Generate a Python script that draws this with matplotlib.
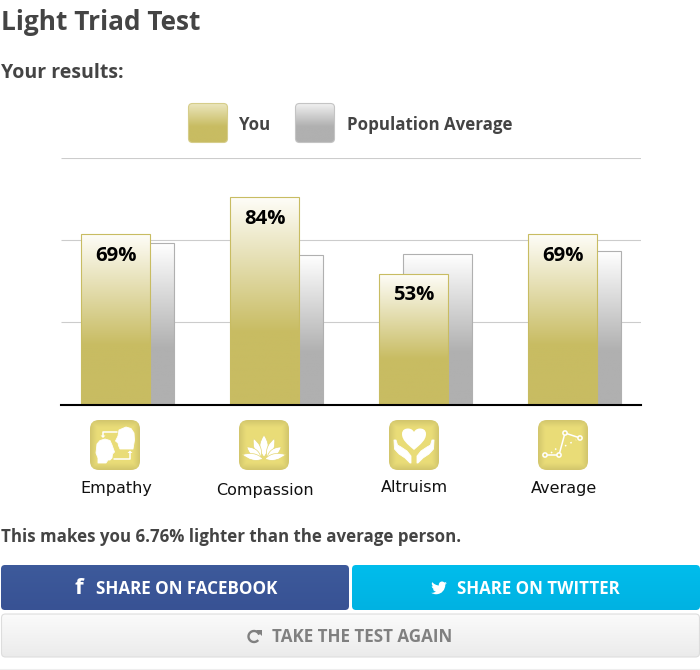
import re
import numpy as np
import matplotlib
matplotlib.use('Agg')
import matplotlib.pyplot as plt
from matplotlib.colors import LinearSegmentedColormap
from matplotlib.patches import FancyBboxPatch, Circle, PathPatch, Polygon, Arc
from matplotlib.path import Path

categories = ['Empathy', 'Compassion', 'Altruism', 'Average']
you_values = [69, 84, 53, 69]
population_values = [65.4, 60.6, 61, 62.2]
grid_values = [100, 66.8, 33.6]

GOLD = '#c8bc62'
GREY = '#b0b0b0'
TEXT = '#444444'
SANS = 'Open Sans'

BIRD = ("M22.46,6C21.69,6.35 20.86,6.58 20,6.69C20.88,6.16 21.56,5.32 21.88,4.31C21.05,4.81 20.13,5.16 19.16,5.36"
        "C18.37,4.5 17.26,4 16,4C13.65,4 11.73,5.92 11.73,8.29C11.73,8.63 11.77,8.96 11.84,9.27C8.28,9.09 5.11,7.38 3,4.79"
        "C2.63,5.42 2.42,6.16 2.42,6.94C2.42,8.43 3.17,9.75 4.33,10.5C3.62,10.5 2.96,10.3 2.38,10C2.38,10 2.38,10 2.38,10.03"
        "C2.38,12.11 3.86,13.85 5.82,14.24C5.46,14.34 5.08,14.39 4.69,14.39C4.42,14.39 4.15,14.36 3.89,14.31"
        "C4.43,16 6,17.26 7.89,17.29C6.43,18.45 4.58,19.13 2.56,19.13C2.22,19.13 1.88,19.11 1.54,19.07"
        "C3.44,20.29 5.7,21 8.12,21C16,21 20.33,14.46 20.33,8.79C20.33,8.6 20.33,8.42 20.32,8.23"
        "C21.16,7.63 21.88,6.87 22.46,6Z")


def fade(top, bottom, stop):
    return LinearSegmentedColormap.from_list('fade', [(0, top), (stop, bottom), (1, bottom)])


def ramp():
    return np.linspace(0, 1, 256).reshape(-1, 1)


def rounded_box(ax, x, y, w, h, top, bottom, stop=1.0, edge='none', radius=4, lw=0.8):
    box = FancyBboxPatch((x + radius, y + radius), w - 2 * radius, h - 2 * radius,
                         boxstyle='round,pad=%g,rounding_size=%g' % (radius, radius),
                         fc='none', ec=edge, lw=lw, zorder=3)
    ax.add_patch(box)
    img = ax.imshow(ramp(), cmap=fade(top, bottom, stop), extent=(x, x + w, y + h, y),
                    origin='upper', aspect='auto', zorder=2)
    img.set_clip_path(box)


def icon_tile(ax, x, y, size=50, radius=9):
    # soft glow inside a rounded tile
    box = FancyBboxPatch((x + radius, y + radius), size - 2 * radius, size - 2 * radius,
                         boxstyle='round,pad=%g,rounding_size=%g' % (radius, radius),
                         fc='none', ec='none', zorder=3)
    ax.add_patch(box)
    u = np.linspace(-1, 1, 100)
    xx, yy = np.meshgrid(u, u)
    edge = np.clip((np.maximum(np.abs(xx), np.abs(yy)) - 0.72) / 0.28, 0, 1)
    cmap = LinearSegmentedColormap.from_list('tile', ['#e9dc78', '#d2c66c'])
    img = ax.imshow(edge, cmap=cmap, vmin=0, vmax=1, extent=(x, x + size, y + size, y),
                    aspect='auto', zorder=2, interpolation='bilinear')
    img.set_clip_path(box)


def svg_path(d):
    verts, codes = [], []
    for cmd, body in re.findall(r'([MCZ])([^MCZ]*)', d):
        nums = [float(n) for n in re.findall(r'-?\d+\.?\d*', body)]
        pts = list(zip(nums[::2], nums[1::2]))
        if cmd == 'M':
            verts += pts
            codes += [Path.MOVETO]
        elif cmd == 'C':
            verts += pts
            codes += [Path.CURVE4] * len(pts)
        else:
            verts += [verts[0]]
            codes += [Path.CLOSEPOLY]
    return np.array(verts), codes


def petal(ax, ox, oy, bx, by, angle, length, width):
    # leaf shape growing from its base point
    a = np.radians(angle)
    d = np.array([np.sin(a), -np.cos(a)])
    n = np.array([d[1], -d[0]])
    b = np.array([ox + bx, oy + by])
    tip = b + d * length
    pts = [b, b + d * length * .35 + n * width, b + d * length * .7 + n * width * .7, tip,
           b + d * length * .7 - n * width * .7, b + d * length * .35 - n * width, b]
    ax.add_patch(PathPatch(Path(pts, [Path.MOVETO] + [Path.CURVE4] * 6), fc='white', ec='#e4d775', lw=0.5, zorder=5))


def white_poly(ax, ox, oy, pts, lw=0.6):
    pts = [(ox + x, oy + y) for x, y in pts]
    ax.add_patch(Polygon(pts, closed=True, fc='white', ec='white', lw=lw, joinstyle='round', zorder=5))


def white_line(ax, ox, oy, pts, lw=1.1, style='-'):
    xs = [ox + p[0] for p in pts]
    ys = [oy + p[1] for p in pts]
    ax.plot(xs, ys, color='white', lw=lw, ls=style, zorder=5, solid_capstyle='round')


def empathy_icon(ax, ox, oy):
    white_poly(ax, ox, oy, [(36, 7), (41, 8.5), (44, 13), (44.5, 20), (43, 29), (30, 29), (28.5, 25.5),
                            (28, 23), (25.5, 21), (28, 16), (29, 10)])
    white_poly(ax, ox, oy, [(15, 19), (20, 20.5), (22, 25), (24.5, 32), (22.5, 34), (22, 38), (20, 40),
                            (18, 40), (16, 43), (8, 43), (8, 38), (6, 33), (7, 24), (10, 20.5)])
    white_line(ax, ox, oy, [(27, 12), (13, 12), (13, 16)])
    white_line(ax, ox, oy, [(24, 38.5), (40, 38.5), (40, 33)])
    white_poly(ax, ox, oy, [(10.5, 15.5), (15.5, 15.5), (13, 18)], lw=0)
    white_poly(ax, ox, oy, [(37.5, 33), (42.5, 33), (40, 30.5)], lw=0)


def compassion_icon(ax, ox, oy):
    petal(ax, ox, oy, 25, 37, 0, 22, 6.5)
    petal(ax, ox, oy, 22, 37, -22, 20, 5)
    petal(ax, ox, oy, 28, 37, 22, 20, 5)
    petal(ax, ox, oy, 22, 38, -52, 18, 5.5)
    petal(ax, ox, oy, 28, 38, 52, 18, 5.5)
    petal(ax, ox, oy, 24, 39, -78, 21, 5)
    petal(ax, ox, oy, 26, 39, 78, 21, 5)


def altruism_icon(ax, ox, oy):
    heart = [(25, 30), (18, 24), (13, 20), (13, 14), (13, 9.5), (16.5, 8.5), (19, 8.5), (22, 8.5), (24, 10), (25, 12),
             (26, 10), (28, 8.5), (31, 8.5), (33.5, 8.5), (37, 9.5), (37, 14), (37, 20), (32, 24), (25, 30)]
    verts = [(ox + x, oy + y) for x, y in heart]
    ax.add_patch(PathPatch(Path(verts, [Path.MOVETO] + [Path.CURVE4] * 18), fc='white', ec='none', zorder=5))
    left = [(5, 20), (5.5, 29), (10, 34), (16, 38), (21, 43), (22, 43), (22, 36), (18, 31), (12, 27), (8.5, 25), (7, 20)]
    white_poly(ax, ox, oy, left)
    white_poly(ax, ox, oy, [(50 - x, y) for x, y in left])


def average_icon(ax, ox, oy):
    dots = [(7, 35), (21, 35), (27, 13), (42, 18)]
    white_line(ax, ox, oy, dots)
    white_line(ax, ox, oy, [(13, 33), (19, 28)], lw=1.1, style=(0, (1, 2.5)))
    white_line(ax, ox, oy, [(27, 26), (38, 20)], lw=1.1, style=(0, (1, 3)))
    for x, y in dots:
        ax.add_patch(Circle((ox + x, oy + y), 2.1, fc='#e6d973', ec='white', lw=1.1, zorder=6))


def draw_chart(fig):
    ax = fig.add_axes([61 / 700, 1 - 404.5 / 670, 580 / 700, 247 / 670], facecolor='none')
    x = np.arange(len(categories))
    width = 69 / 149
    offset = 11.75 / 149
    ax.hlines(grid_values, -0.446, 3.446, color='#cccccc', lw=0.8, zorder=1)
    pop_map = fade('#ffffff', GREY, 0.65)
    you_map = fade('#fefdf8', GOLD, 0.65)
    for i in x:
        ax.imshow(ramp(), cmap=pop_map, aspect='auto', origin='upper', zorder=2,
                  extent=(i + offset - width / 2, i + offset + width / 2, 0, population_values[i]))
        ax.imshow(ramp(), cmap=you_map, aspect='auto', origin='upper', zorder=4,
                  extent=(i - offset - width / 2, i - offset + width / 2, 0, you_values[i]))
    ax.bar(x + offset, population_values, width, fc='none', ec=GREY, lw=0.8, zorder=3)
    ax.bar(x - offset, you_values, width, fc='none', ec=GOLD, lw=0.8, zorder=5)
    for i in x:
        ax.annotate('%d%%' % you_values[i], (i - offset, you_values[i]), xytext=(0, -15.5), textcoords='offset points',
                    ha='center', va='center', fontsize=14.6, fontweight='bold', family=SANS, color='black',
                    zorder=6)
    ax.set_xlim(-0.446, 3.446)
    ax.set_ylim(0, 100)
    ax.set_xticks([])
    ax.set_yticks([])
    for name in ['top', 'left', 'right']:
        ax.spines[name].set_visible(False)
    ax.spines['bottom'].set_linewidth(1.5)
    ax.spines['bottom'].set_zorder(7)


def draw_page(fig):
    ax = fig.add_axes([0, 0, 1, 1], facecolor='none')

    bold = dict(family=SANS, fontweight='bold', va='center')
    ax.text(1, 23, 'Light Triad Test', fontsize=18.9, color=TEXT, **bold)
    ax.text(1, 73.5, 'Your results:', fontsize=14, color=TEXT, **bold)
    ax.text(239, 124.5, 'You', fontsize=12.2, color=TEXT, **bold)
    ax.text(347, 124.5, 'Population Average', fontsize=12.2, color=TEXT, **bold)
    ax.text(1, 537.5, 'This makes you 6.76% lighter than the average person.', fontsize=12.2, color=TEXT, **bold)

    rounded_box(ax, 188.5, 103.5, 39, 39, '#ece7bf', GOLD, 0.6, edge='#d6cd8a', radius=4)
    rounded_box(ax, 295.5, 103.5, 39, 39, '#f2f2f2', GREY, 0.6, edge='#c4c4c4', radius=4)

    # icons under the bars
    icon_x = [90, 239, 389, 538]
    label_x = [116, 265, 414, 564]
    label_y = [489, 490, 488, 489]
    painters = [empathy_icon, compassion_icon, altruism_icon, average_icon]
    for name, ix, lx, ly, paint in zip(categories, icon_x, label_x, label_y, painters):
        icon_tile(ax, ix, 420)
        paint(ax, ix, 420)
        ax.text(lx, ly, name, fontsize=11.5, family='DejaVu Sans', color='#111111', ha='center', va='center')

    # share and retry buttons
    rounded_box(ax, 1, 565, 348, 45, '#3d5a9b', '#385294', radius=4)
    rounded_box(ax, 352, 565, 348, 45, '#00bdec', '#00b2e2', radius=4)
    rounded_box(ax, 1.5, 614, 698, 43, '#fbfbfb', '#ebebeb', edge='#dddddd', radius=4)

    ax.text(78.5, 589, 'f', fontsize=16, color='white', ha='center', zorder=6, **bold)
    ax.text(96, 589, 'SHARE ON FACEBOOK', fontsize=12.28, color='white', zorder=6, **bold)
    ax.text(457, 589, 'SHARE ON TWITTER', fontsize=12.2, color='white', zorder=6, **bold)
    ax.text(272, 637, 'TAKE THE TEST AGAIN', fontsize=12.28, color='#808080', zorder=6, **bold)

    verts, codes = svg_path(BIRD)
    verts = verts * 0.75 + (430, 578.5)
    ax.add_patch(PathPatch(Path(verts, codes), fc='white', ec='none', zorder=6))

    ax.add_patch(Arc((254, 636.5), 11, 11, theta1=-320, theta2=-20, ec='#808080', lw=1.7, zorder=6))
    ax.add_patch(Polygon([(256, 630), (262, 630), (262, 636)], closed=True, fc='#808080', ec='none', zorder=6))

    ax.plot([0, 700], [669, 669], color='#eeeeee', lw=0.8)

    ax.set_xlim(0, 700)
    ax.set_ylim(670, 0)
    ax.axis('off')


def main():
    fig = plt.figure(figsize=(7, 6.7), dpi=100, facecolor='white')
    draw_chart(fig)
    draw_page(fig)
    fig.savefig('out.png', dpi=100)


if __name__ == "__main__":
    main()
